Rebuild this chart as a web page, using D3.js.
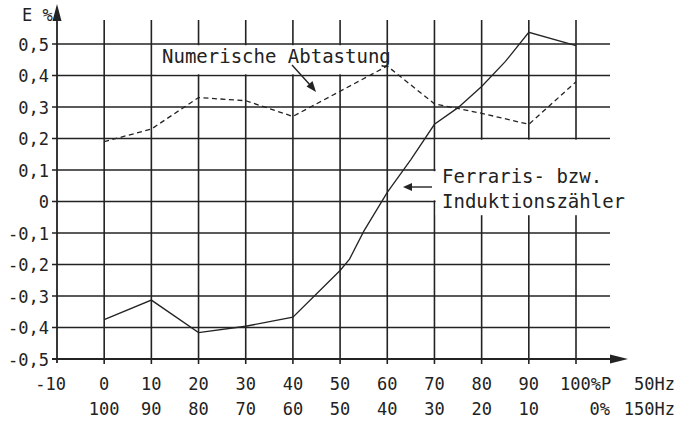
<!DOCTYPE html>
<html>
<head>
<meta charset="utf-8">
<script src="https://cdn.jsdelivr.net/npm/d3@7"></script>
<style>
  body { margin: 0; background: #fff; }
  svg { display: block; }
  text { font-family: "DejaVu Sans Mono", "Liberation Mono", monospace; fill: #222; }
</style>
</head>
<body>
<div id="chart"></div>
<script>
// x positions (% power at 50 Hz), y ticks and the two measured curves
var gridX = [0, 10, 20, 30, 40, 50, 60, 70, 80, 90, 100];
var yTicks = [-0.5, -0.4, -0.3, -0.2, -0.1, 0, 0.1, 0.2, 0.3, 0.4, 0.5];
var yLabels = ["-0,5", "-0,4", "-0,3", "-0,2", "-0,1", "0", "0,1", "0,2", "0,3", "0,4", "0,5"];
var row1Labels = ["-10", "0", "10", "20", "30", "40", "50", "60", "70", "80", "90", "100%P"];
var row2Labels = ["100", "90", "80", "70", "60", "50", "40", "30", "20", "10", "0%"];

// Numerische Abtastung (dashed)
var numX = [0, 10, 20, 30, 40, 50, 60, 70, 80, 90, 100];
var numE = [0.19, 0.23, 0.33, 0.32, 0.27, 0.35, 0.43, 0.31, 0.28, 0.245, 0.38];

// Ferraris- bzw. Induktionszaehler (solid)
var ferX = [0, 10, 20, 30, 40, 50, 52, 55, 60, 65, 70, 75, 80, 85, 90, 100];
var ferE = [-0.375, -0.313, -0.416, -0.396, -0.367, -0.219, -0.183, -0.095, 0.029, 0.133, 0.245, 0.298, 0.365, 0.444, 0.537, 0.495];

var width = 694, height = 421;

var x = d3.scaleLinear().domain([-10, 100]).range([57, 576]);
var y = d3.scaleLinear().domain([-0.5, 0.5]).range([359, 44]);

var svg = d3.select("#chart").append("svg")
    .attr("width", width)
    .attr("height", height);

var ink = "#232323";

// horizontal grid lines
svg.selectAll(".hgrid")
    .data(yTicks.slice(1))
    .enter().append("line")
    .attr("x1", x(-10) - 5)
    .attr("x2", 610)
    .attr("y1", function (d) { return y(d); })
    .attr("y2", function (d) { return y(d); })
    .attr("stroke", ink)
    .attr("stroke-width", 1.6);

// vertical grid lines
svg.selectAll(".vgrid")
    .data(gridX)
    .enter().append("line")
    .attr("x1", function (d) { return x(d); })
    .attr("x2", function (d) { return x(d); })
    .attr("y1", 20)
    .attr("y2", y(-0.5) + 5)
    .attr("stroke", ink)
    .attr("stroke-width", 1.6);

// white boxes behind the annotations
svg.append("rect")
    .attr("x", 156).attr("y", y(0.5) + 1.2)
    .attr("width", x(60) - 3 - 156).attr("height", y(0.4) - y(0.5) - 2.4)
    .attr("fill", "#fff");
svg.append("rect")
    .attr("x", x(70) + 1.2).attr("y", y(0.2) + 1.2)
    .attr("width", 620 - x(70)).attr("height", 214 - y(0.2))
    .attr("fill", "#fff");
svg.append("rect")
    .attr("x", x(70) - 3).attr("y", y(0.1) + 1.2)
    .attr("width", 6).attr("height", y(0) - y(0.1) - 2.4)
    .attr("fill", "#fff");

// axes
svg.append("line")
    .attr("x1", x(-10)).attr("x2", x(-10))
    .attr("y1", y(-0.5) + 4).attr("y2", 14)
    .attr("stroke", ink).attr("stroke-width", 1.8);
svg.append("path")
    .attr("d", "M" + x(-10) + ",4 L" + (x(-10) - 4.5) + ",21 L" + (x(-10) + 4.5) + ",21 Z")
    .attr("fill", ink);
svg.append("line")
    .attr("x1", x(-10) - 5).attr("x2", 614)
    .attr("y1", y(-0.5)).attr("y2", y(-0.5))
    .attr("stroke", ink).attr("stroke-width", 1.8);
svg.append("path")
    .attr("d", "M628," + y(-0.5) + " L610," + (y(-0.5) - 4.5) + " L610," + (y(-0.5) + 4.5) + " Z")
    .attr("fill", ink);

// data lines
var numLine = d3.line()
    .x(function (d, i) { return x(numX[i]); })
    .y(function (d) { return y(d); });
svg.append("path")
    .datum(numE)
    .attr("d", numLine)
    .attr("fill", "none")
    .attr("stroke", ink)
    .attr("stroke-width", 1.3)
    .attr("stroke-dasharray", "5,3.5");

var ferLine = d3.line()
    .x(function (d, i) { return x(ferX[i]); })
    .y(function (d) { return y(d); });
svg.append("path")
    .datum(ferE)
    .attr("d", ferLine)
    .attr("fill", "none")
    .attr("stroke", ink)
    .attr("stroke-width", 1.3);

// y labels
svg.selectAll(".ylab")
    .data(yTicks)
    .enter().append("text")
    .attr("x", x(-10) - 8)
    .attr("y", function (d) { return y(d) + 6.5; })
    .attr("text-anchor", "end")
    .attr("font-size", 17)
    .text(function (d, i) { return yLabels[i]; });

svg.append("text")
    .attr("x", 22).attr("y", 21)
    .attr("font-size", 17)
    .text("E %");

// x labels, two rows
var row1X = [-10].concat(gridX);
svg.selectAll(".xlab1")
    .data(row1Labels)
    .enter().append("text")
    .attr("x", function (d, i) {
        if (i == 0) return x(row1X[i]) + 9;
        if (i == row1Labels.length - 1) return x(row1X[i]) - 16;
        return x(row1X[i]);
    })
    .attr("y", 390)
    .attr("text-anchor", function (d, i) {
        if (i == 0) return "end";
        if (i == row1Labels.length - 1) return "start";
        return "middle";
    })
    .attr("font-size", 17)
    .text(function (d) { return d; });

svg.selectAll(".xlab2")
    .data(row2Labels)
    .enter().append("text")
    .attr("x", function (d, i) {
        if (i == row2Labels.length - 1) return x(gridX[i]) + 34;
        return x(gridX[i]);
    })
    .attr("y", 415)
    .attr("text-anchor", function (d, i) {
        return i == row2Labels.length - 1 ? "end" : "middle";
    })
    .attr("font-size", 17)
    .text(function (d) { return d; });

svg.append("text").attr("x", 675).attr("y", 390)
    .attr("text-anchor", "end").attr("font-size", 17).text("50Hz");
svg.append("text").attr("x", 675).attr("y", 415)
    .attr("text-anchor", "end").attr("font-size", 17).text("150Hz");

// annotations
svg.append("text")
    .attr("x", 162).attr("y", 63)
    .attr("font-size", 19)
    .text("Numerische Abtastung");
svg.append("text")
    .attr("x", 442).attr("y", 183)
    .attr("font-size", 19)
    .text("Ferraris- bzw.");
svg.append("text")
    .attr("x", 442).attr("y", 208)
    .attr("font-size", 19)
    .text("Induktionszähler");

// annotation arrows
svg.append("line")
    .attr("x1", 292).attr("y1", 65).attr("x2", 311).attr("y2", 86)
    .attr("stroke", ink).attr("stroke-width", 1.4);
svg.append("path")
    .attr("d", "M316,92 L306.5,86.5 L312.5,81 Z")
    .attr("fill", ink);
svg.append("line")
    .attr("x1", 432).attr("y1", 187).attr("x2", 410).attr("y2", 187)
    .attr("stroke", ink).attr("stroke-width", 1.4);
svg.append("path")
    .attr("d", "M403,187 L412,183 L412,191 Z")
    .attr("fill", ink);
</script>
</body>
</html>
